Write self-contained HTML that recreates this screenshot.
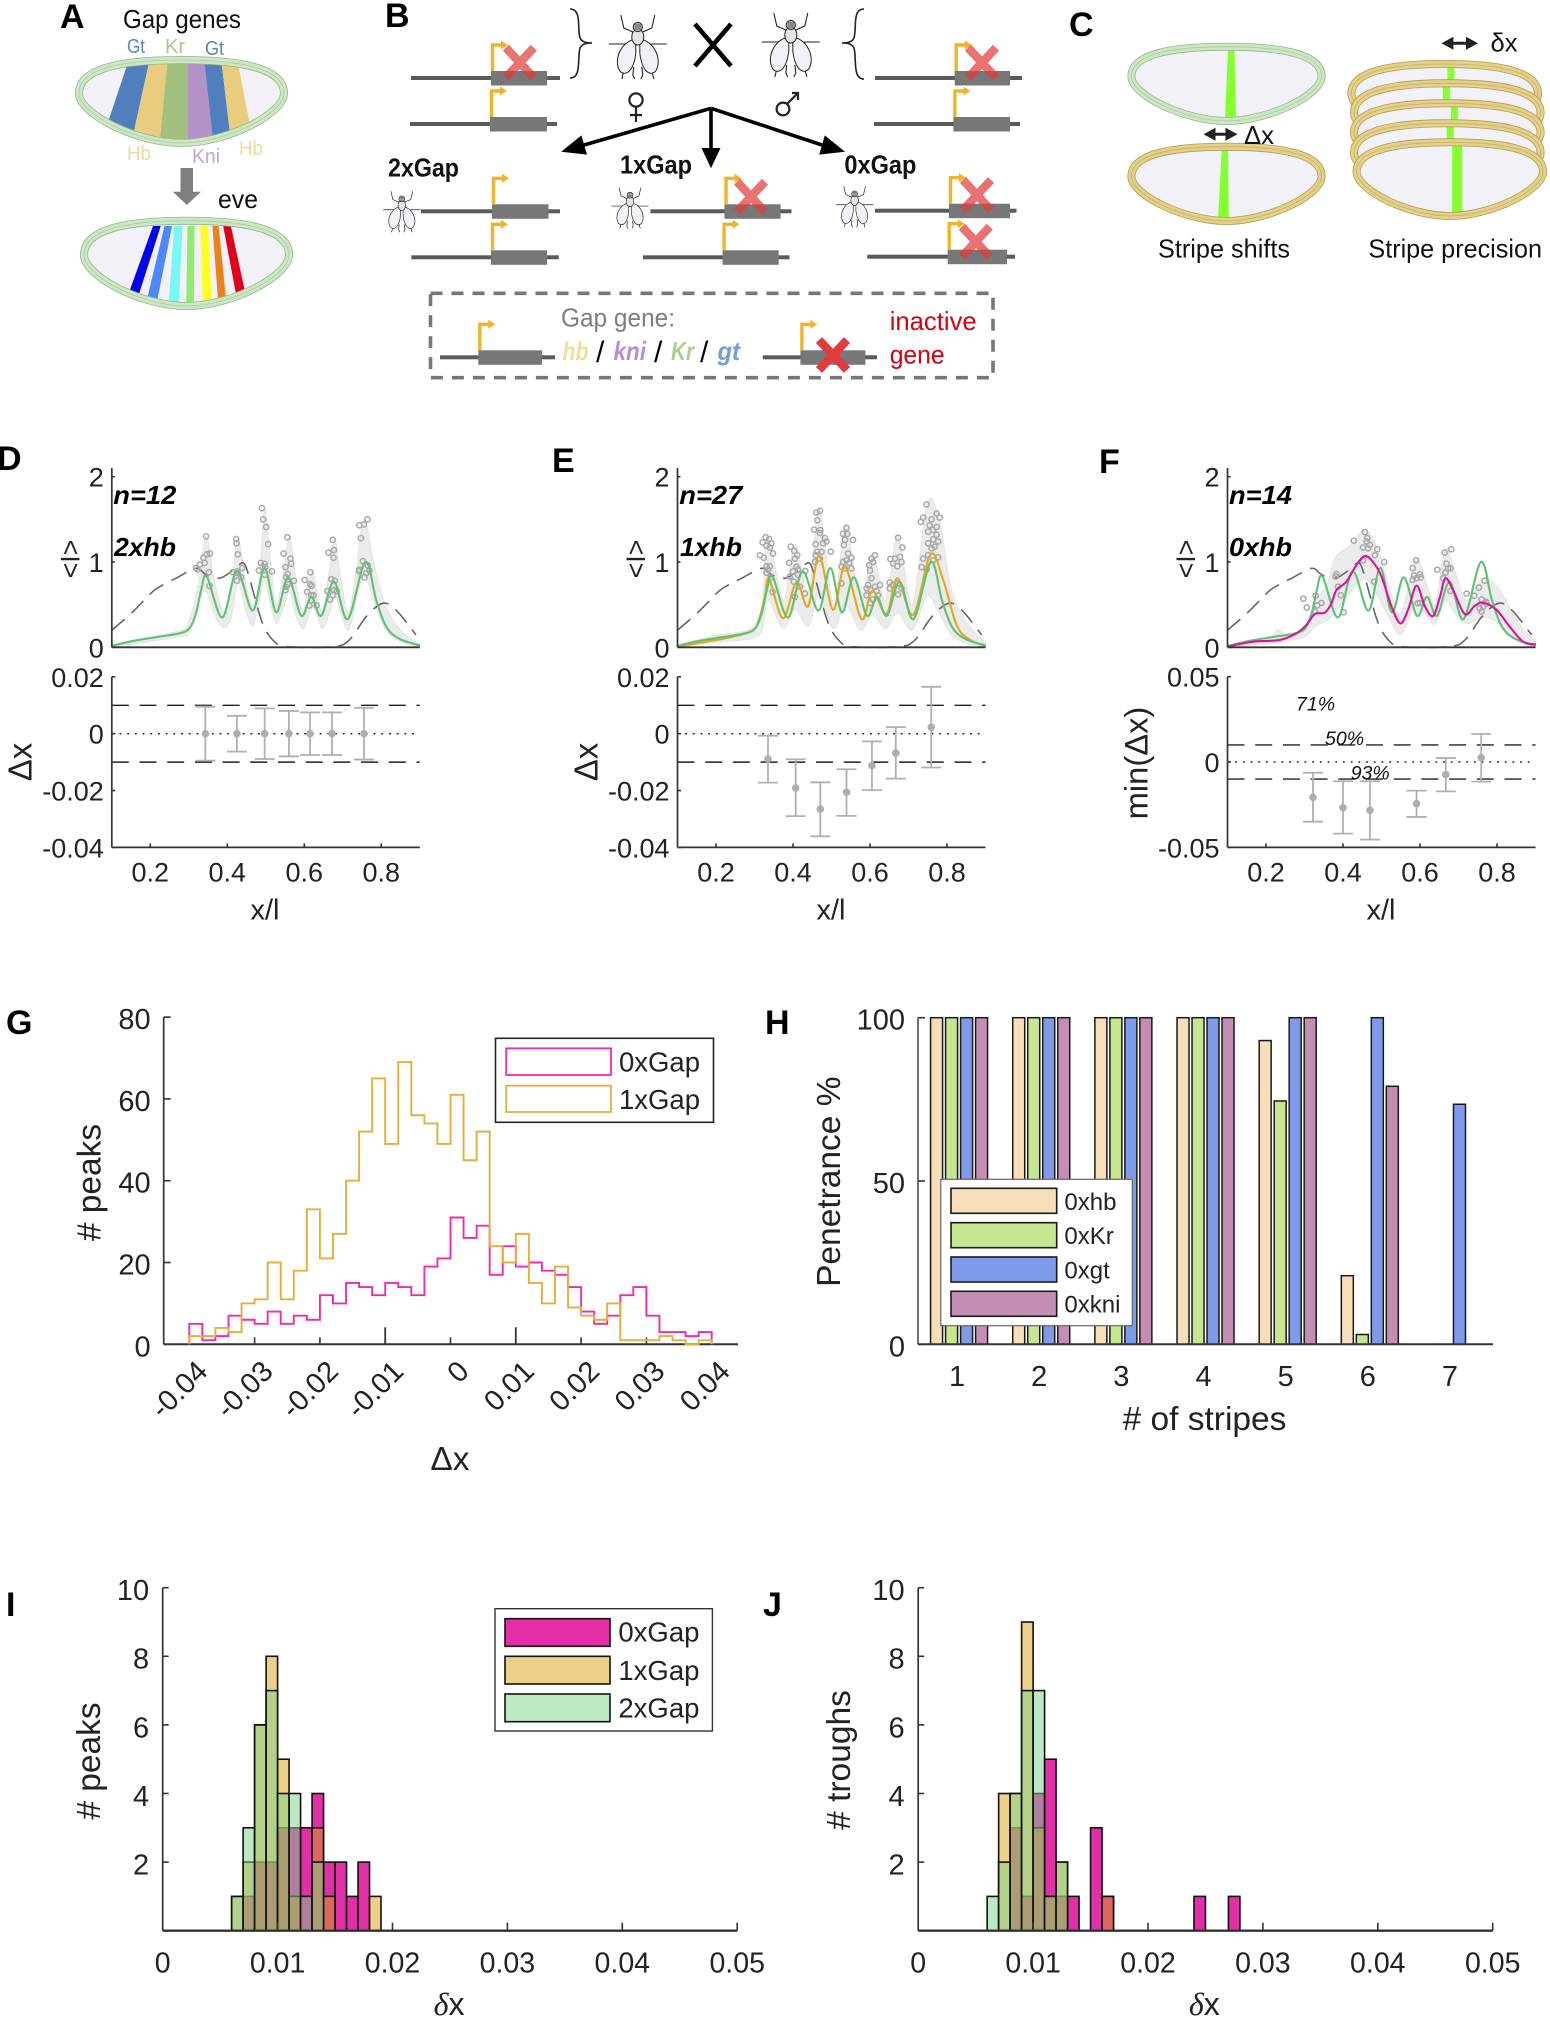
<!DOCTYPE html>
<html lang="en">
<head>
<meta charset="utf-8">
<title>Gap gene dosage and eve stripe positioning</title>
<style>
html,body{margin:0;padding:0;background:#fff;}
svg{display:block;}
text{font-family:"Liberation Sans",sans-serif;fill:#222;}
.letter{font-weight:bold;font-size:34px;fill:#000;}
.lab{font-size:33.5px;}
.schem{font-size:26px;fill:#111;}
.tag{font-weight:bold;font-style:italic;font-size:26px;fill:#000;}
.pct{font-style:italic;font-size:19.5px;fill:#111;}
.leg{font-size:27.5px;}
.leg2{font-size:24px;}
</style>
</head>
<body>
<svg id="figure" xmlns="http://www.w3.org/2000/svg" width="1550" height="2019" viewBox="0 0 1550 2019">
<defs>
  <clipPath id="embryo-a-clip"><path d="M79.5 93.3C79.5 70.3 116.2 60.5 181.5 60.5C246.8 60.5 283.5 70.3 283.5 93.3C283.5 113.8 226.4 142.5 181.5 142.5C136.6 142.5 79.5 113.8 79.5 93.3Z"/></clipPath>
  <g id="fly">
    <g fill="none" stroke="#222" stroke-width="1.1">
      <path d="M-29-3H29M-5-15L-14-19L-17-32M5-15L14-19L17-32M-8 16L-14 24L-16 32M8 16L14 24L16 32M-4 20L-5 28L-3 32M4 20L5 28L3 32"/>
    </g>
    <path d="M-2-8C-16-6-25 12-18 24C-12 30-4 24-2 6Z" fill="#f1f1f7" stroke="#222" stroke-width="1"/>
    <path d="M2-8C16-6 25 12 18 24C12 30 4 24 2 6Z" fill="#f1f1f7" stroke="#222" stroke-width="1"/>
    <ellipse cx="0" cy="-10" rx="6" ry="8" fill="#e4e4e4" stroke="#222" stroke-width="1"/>
    <circle cx="0" cy="-20" r="4.6" fill="#bbb" stroke="#222" stroke-width="1"/>
    <path d="M-3-22H3M-3-20H3M-3-18H3" stroke="#333" stroke-width=".7"/>
  </g>
</defs>

<g id="layer-embryo-fill"></g>

<g>
  <g clip-path="url(#embryo-a-clip)">
    <polygon points="129.5,58 150,58 130.7,146 100,146" fill="#4f7fbf"/>
    <polygon points="150,58 167.7,58 159.4,146 130.7,146" fill="#e9cc7e"/>
    <polygon points="167.7,58 188,58 188,146 159.4,146" fill="#a2c17e"/>
    <polygon points="188,58 204,58 213.6,146 188,146" fill="#b491c8"/>
    <polygon points="204,58 221,58 231.5,146 213.6,146" fill="#4f7fbf"/>
    <polygon points="221,58 237,58 254,146 231.5,146" fill="#e9cc7e"/>
  </g>
  <polygon points="153,226 160.7,226 139,294 128.8,293" fill="#0000f0"/>
  <polygon points="164.5,226 172,226 157.5,299 147.3,298" fill="#4d88ff"/>
  <polygon points="174,226 182.4,226 179,302 169,301" fill="#77f7f7"/>
  <polygon points="187.5,226 194.5,226 193.9,302 186.2,302" fill="#8fec6f"/>
  <polygon points="200.3,226 208,226 211.7,301 202.8,302" fill="#ffff22"/>
  <polygon points="212.4,226 218.7,226 225.8,297 218,299" fill="#e8821e"/>
  <polygon points="223.2,226 230.9,226 245,292 236,294" fill="#e0001b"/>
  <polygon points="1228,49 1234.4,49 1236,120 1225,120" fill="#85ff2e"/>
  <polygon points="1221.8,148 1228,148 1228.8,219 1218,219" fill="#85ff2e"/>
</g>

<g id="layer-embryo-ring"></g>
<g id="layer-genes"></g>
<g id="layer-charts"></g>

<g>
  <text class="letter" x="60" y="28">A</text>
  <text class="letter" x="385" y="27">B</text>
  <text class="letter" x="1069" y="36">C</text>
  <text class="schem" x="123" y="28" textLength="118" lengthAdjust="spacingAndGlyphs">Gap genes</text>
  <text x="127" y="53" font-size="20" textLength="18" lengthAdjust="spacingAndGlyphs" style="fill:#5b84b8">Gt</text>
  <text x="165" y="53" font-size="20" textLength="20" lengthAdjust="spacingAndGlyphs" style="fill:#a9c58a">Kr</text>
  <text x="205" y="55" font-size="20" textLength="19" lengthAdjust="spacingAndGlyphs" style="fill:#5b84b8">Gt</text>
  <text x="127" y="160" font-size="20" textLength="24" lengthAdjust="spacingAndGlyphs" style="fill:#ecd9a0">Hb</text>
  <text x="192" y="163" font-size="20" textLength="28" lengthAdjust="spacingAndGlyphs" style="fill:#c0a6d0">Kni</text>
  <text x="239" y="155" font-size="20" textLength="24" lengthAdjust="spacingAndGlyphs" style="fill:#ecd9a0">Hb</text>
  <polygon points="180.5,168 193,168 193,191.7 200.9,191.7 186.9,205 172.8,191.7 180.5,191.7" fill="#7f7f7f"/>
  <text class="schem" x="218" y="208" textLength="40" lengthAdjust="spacingAndGlyphs">eve</text>

  <use href="#fly" transform="translate(637.8 47)"/>
  <use href="#fly" transform="translate(790.8 45)"/>
  <use href="#fly" transform="translate(401.8 211.7) scale(.64)"/>
  <use href="#fly" transform="translate(630 208) scale(.64)"/>
  <use href="#fly" transform="translate(854.6 206.7) scale(.64)"/>
  <path d="M570 9C582 9 577 28 580 38C582 42 586 43 592 43C586 43 582 44 580 48C577 58 582 78 570 78" fill="none" stroke="#222" stroke-width="1.6"/>
  <path d="M864 9C852 9 857 28 854 38C852 42 848 43 842 43C848 43 852 44 854 48C857 58 852 79 864 79" fill="none" stroke="#222" stroke-width="1.6"/>
  <path d="M695 24L731 66M731 24L695 66" stroke="#000" stroke-width="4.6" fill="none"/>
  <g fill="none" stroke="#222" stroke-width="2.2">
    <circle cx="636" cy="100" r="6.6"/><path d="M636 107V122M630 115H642"/>
  </g>
  <g fill="none" stroke="#222" stroke-width="2.2">
    <circle cx="783" cy="109" r="6.4"/><path d="M787 104L798 93M792 93H798V100"/>
  </g>
  <g>
    <path d="M711 108.3L584 145M711 108.3V150M711 108.3L822 145" stroke="#000" stroke-width="3.6" fill="none"/>
    <polygon points="561.2,151.7 587,154.6 581.4,135.4"/>
    <polygon points="711,168.3 701.5,148 720.5,148"/>
    <polygon points="845,151.7 819.2,154.6 824.8,135.4"/>
  </g>
  <text class="schem" font-weight="bold" x="388" y="176.7" textLength="71" lengthAdjust="spacingAndGlyphs">2xGap</text>
  <text class="schem" font-weight="bold" x="620" y="173.3" textLength="72" lengthAdjust="spacingAndGlyphs">1xGap</text>
  <text class="schem" font-weight="bold" x="844.4" y="173.3" textLength="72" lengthAdjust="spacingAndGlyphs">0xGap</text>

  <rect x="430.5" y="293.3" width="562.5" height="84.4" fill="none" stroke="#777" stroke-width="3.6" stroke-dasharray="12 9"/>
  <text class="schem" x="561" y="326.7" textLength="114" lengthAdjust="spacingAndGlyphs" style="fill:#7f7f7f">Gap gene:</text>
  <text class="schem" font-weight="bold" font-style="italic" x="562.5" y="360" textLength="26" lengthAdjust="spacingAndGlyphs" style="fill:#f3dc9c">hb</text>
  <text x="596" y="362" font-size="30" style="fill:#000">/</text>
  <text class="schem" font-weight="bold" font-style="italic" x="613.5" y="360" textLength="32.5" lengthAdjust="spacingAndGlyphs" style="fill:#b58ce0">kni</text>
  <text x="654" y="362" font-size="30" style="fill:#000">/</text>
  <text class="schem" font-weight="bold" font-style="italic" x="671" y="360" textLength="23" lengthAdjust="spacingAndGlyphs" style="fill:#a9d18e">Kr</text>
  <text x="700" y="362" font-size="30" style="fill:#000">/</text>
  <text class="schem" font-weight="bold" font-style="italic" x="717.5" y="360" textLength="22.5" lengthAdjust="spacingAndGlyphs" style="fill:#6f9fd8">gt</text>
  <text class="schem" x="889.7" y="330" textLength="87" lengthAdjust="spacingAndGlyphs" style="fill:#d7000f">inactive</text>
  <text class="schem" x="889.7" y="363.3" textLength="55" lengthAdjust="spacingAndGlyphs" style="fill:#d7000f">gene</text>

  <g>
    <path d="M1203.5 134.3l12-6.5v13zM1237.5 134.3l-12-6.5v13z" fill="#222"/><path d="M1210 134.3H1231" stroke="#222" stroke-width="3"/>
  </g>
  <text class="schem" x="1244" y="144" textLength="30" lengthAdjust="spacingAndGlyphs">Δx</text>
  <g>
    <path d="M1441.4 43.3l12-6.5v13zM1478 43.3l-12-6.5v13z" fill="#222"/><path d="M1448 43.3H1472" stroke="#222" stroke-width="3"/>
  </g>
  <text class="schem" x="1490.5" y="51.7" textLength="27" lengthAdjust="spacingAndGlyphs">δx</text>
  <text class="schem" x="1158" y="257.3" textLength="132" lengthAdjust="spacingAndGlyphs">Stripe shifts</text>
  <text class="schem" x="1368.4" y="257.3" textLength="173.6" lengthAdjust="spacingAndGlyphs">Stripe precision</text>
</g>

<g>
  <text class="letter" x="-3" y="470">D</text>
  <text class="letter" x="552" y="472">E</text>
  <text class="letter" x="1099" y="473">F</text>
  <text class="letter" x="6" y="1034">G</text>
  <text class="letter" x="765" y="1034">H</text>
  <text class="letter" x="6" y="1616">I</text>
  <text class="letter" x="763" y="1616">J</text>
</g>

<g>
  <text class="tag" x="113.3" y="504" textLength="63" lengthAdjust="spacingAndGlyphs">n=12</text>
  <text class="tag" x="114" y="556" textLength="62" lengthAdjust="spacingAndGlyphs">2xhb</text>
  <text class="tag" x="679.3" y="504" textLength="63" lengthAdjust="spacingAndGlyphs">n=27</text>
  <text class="tag" x="680" y="556" textLength="62" lengthAdjust="spacingAndGlyphs">1xhb</text>
  <text class="tag" x="1229" y="504" textLength="63" lengthAdjust="spacingAndGlyphs">n=14</text>
  <text class="tag" x="1229" y="556" textLength="63" lengthAdjust="spacingAndGlyphs">0xhb</text>

  <text font-size="26.6" text-anchor="middle" transform="translate(79.5 559) rotate(-90)">&lt;I&gt;</text>
  <text font-size="26.6" text-anchor="middle" transform="translate(645 559) rotate(-90)">&lt;I&gt;</text>
  <text font-size="26.6" text-anchor="middle" transform="translate(1195 559) rotate(-90)">&lt;I&gt;</text>
  <text font-size="33" text-anchor="middle" transform="translate(31.7 762) rotate(-90)">Δx</text>
  <text font-size="33" text-anchor="middle" transform="translate(597.4 762) rotate(-90)">Δx</text>
  <text font-size="32.7" text-anchor="middle" transform="translate(1147.7 763) rotate(-90)">min(Δx)</text>
  <text font-size="29" text-anchor="middle" x="265" y="919.3">x/l</text>
  <text font-size="29" text-anchor="middle" x="831" y="919.3">x/l</text>
  <text font-size="29" text-anchor="middle" x="1381" y="919.3">x/l</text>
  <text class="pct" x="1296" y="710.7">71%</text>
  <text class="pct" x="1325" y="745">50%</text>
  <text class="pct" x="1350.7" y="779.3">93%</text>
</g>

<g>
  <text class="lab" text-anchor="middle" transform="translate(100.6 1182.5) rotate(-90)"># peaks</text>
  <text class="lab" text-anchor="middle" x="450" y="1470">Δx</text>
  <text class="lab" text-anchor="middle" transform="translate(840 1181.7) rotate(-90)">Penetrance %</text>
  <text class="lab" text-anchor="middle" x="1204.5" y="1430"># of stripes</text>
  <text class="lab" text-anchor="middle" transform="translate(100 1761) rotate(-90)"># peaks</text>
  <text class="lab" text-anchor="middle" transform="translate(850 1760) rotate(-90)"># troughs</text>
  <text text-anchor="middle" x="449" y="2015" font-size="32"><tspan font-family="Liberation Serif" font-style="italic">δ</tspan>x</text>
  <text text-anchor="middle" x="1204.3" y="2015" font-size="32"><tspan font-family="Liberation Serif" font-style="italic">δ</tspan>x</text>
</g>

<g>
  <rect x="495.5" y="1038.3" width="218" height="84" fill="#fff" stroke="#222" stroke-width="1.6"/>
  <rect x="506.2" y="1048.3" width="104.8" height="26.7" fill="#fff" stroke="#ee2bb0" stroke-width="1.8"/>
  <text class="leg" x="619" y="1071.7">0xGap</text>
  <rect x="506.2" y="1085.7" width="104.8" height="26.3" fill="#fff" stroke="#e6ad3a" stroke-width="1.8"/>
  <text class="leg" x="619" y="1109">1xGap</text>
</g>

<g id="layer-overlay">
  <rect x="940.8" y="1179.3" width="191.5" height="146.4" fill="#fff" stroke="#666" stroke-width="1.2"/>
  <rect x="951" y="1188.3" width="105.7" height="25" fill="#f7ddb8" stroke="#1a1a1a" stroke-width="1.6"/>
  <text class="leg2" x="1064.4" y="1210">0xhb</text>
  <rect x="951" y="1222.7" width="105.7" height="25" fill="#c6e690" stroke="#1a1a1a" stroke-width="1.6"/>
  <text class="leg2" x="1064.4" y="1244">0xKr</text>
  <rect x="951" y="1257" width="105.7" height="25" fill="#7f9ae8" stroke="#1a1a1a" stroke-width="1.6"/>
  <text class="leg2" x="1064.4" y="1278.7">0xgt</text>
  <rect x="951" y="1291.3" width="105.7" height="25" fill="#c48db2" stroke="#1a1a1a" stroke-width="1.6"/>
  <text class="leg2" x="1064.4" y="1312.7">0xkni</text>
</g>

<g>
  <rect x="495" y="1608.7" width="217.4" height="122.3" fill="#fff" stroke="#333" stroke-width="1.4"/>
  <rect x="505" y="1618.7" width="105" height="27.6" fill="#e22fa8" stroke="#111" stroke-width="1.6"/>
  <text class="leg" x="618.4" y="1641.7">0xGap</text>
  <rect x="505" y="1656.3" width="105" height="27.7" fill="#ecd087" stroke="#111" stroke-width="1.6"/>
  <text class="leg" x="618.4" y="1680">1xGap</text>
  <rect x="505" y="1694" width="105" height="27.7" fill="#bde8c4" stroke="#111" stroke-width="1.6"/>
  <text class="leg" x="618.4" y="1717.7">2xGap</text>
</g>
</svg>

<script>
/* ---------- chart data ---------- */
const stripeTicks = [0.2, 0.4, 0.6, 0.8];
const stripeTickLabels = ['0.2', '0.4', '0.6', '0.8'];
const intensityTicks = [0, 1, 2];
const intensityTickLabels = ['0', '1', '2'];
const shiftTicksDE = [0.02, 0, -0.02, -0.04];
const shiftTickLabelsDE = ['0.02', '0', '-0.02', '-0.04'];
const shiftTicksF = [0.05, 0, -0.05];
const shiftTickLabelsF = ['0.05', '0', '-0.05'];
const thresholdValues = [0.01, -0.01];

const wildtypeX = [.100,.155,.224,.276,.302,.319,.332,.347,.387,.425,.466,.497,.527,.558,.592,.618,.644,.677,.713,.758,.787,.813,.847,.901];
const wildtypeY = [.016,.074,.125,.164,.223,.40,.67,.83,.35,.89,.43,.93,.41,.82,.37,.59,.37,.77,.33,1.0,.55,.24,.10,.02];

const oneCopyX = [.1,.175,.245,.297,.314,.327,.338,.374,.409,.439,.468,.504,.535,.578,.606,.643,.671,.712,.757,.790,.825,.859,.901];
const oneCopyY = [.01,.066,.125,.203,.36,.59,.80,.34,.76,.48,1.07,.44,.94,.33,.66,.39,.81,.38,1.09,.79,.26,.09,.015];

const zeroCopyX = [.1,.167,.236,.279,.305,.327,.353,.370,.383,.409,.435,.457,.478,.5,.526,.549,.569,.591,.613,.634,.652,.666,.686,.716,.742,.764,.799,.833,.868,.901];
const zeroCopyY = [.008,.066,.086,.164,.262,.391,.406,.516,.672,.77,.965,1.07,1.0,.83,.477,.28,.44,.723,.477,.367,.594,.809,.672,.39,.484,.523,.438,.242,.066,.035];

const gapProfileX = [.1,.155,.206,.232,.267,.319,.345,.38,.414,.44,.453,.471,.492,.518,.553,.674,.717,.761,.804,.839,.89];
const gapProfileY = [.2,.418,.652,.73,.81,.926,.85,.81,.90,.99,.883,.59,.277,.086,.008,.008,.086,.36,.516,.434,.145];

const bandDX = [.1,.2,.28,.3,.325,.345,.365,.39,.41,.428,.45,.468,.485,.497,.512,.527,.545,.562,.58,.597,.61,.622,.635,.648,.665,.68,.695,.715,.735,.755,.78,.81,.85,.9];
const bandDUpper = [.04,.12,.2,.3,.75,1.3,.8,.42,.7,1.27,.7,.5,.9,1.63,1.0,.5,.85,1.3,.7,.42,.7,.9,.6,.42,.9,1.27,.8,.4,.9,1.5,1.0,.5,.2,.03];
const bandDLower = [0,.07,.13,.17,.55,.65,.4,.23,.35,.75,.4,.26,.6,.78,.5,.28,.45,.65,.35,.22,.35,.47,.35,.22,.4,.6,.4,.2,.55,.85,.55,.22,.07,0];

const bandEX = [.1,.2,.29,.32,.335,.375,.405,.44,.468,.505,.537,.575,.606,.64,.672,.71,.748,.78,.81,.85,.9];
const bandEUpper = [.03,.14,.22,.5,1.3,.55,1.2,.62,1.62,.5,1.42,.5,1.1,.55,1.3,.5,1.68,1.5,.7,.3,.05];
const bandELower = [0,.06,.1,.2,.55,.22,.45,.25,.62,.22,.5,.2,.38,.22,.4,.2,.6,.4,.15,.05,0];

const bandFX = [.1,.2,.23,.26,.3,.33,.36,.38,.42,.457,.49,.52,.55,.59,.62,.64,.665,.69,.72,.76,.8,.84,.87,.9];
const bandFUpper = [.02,.08,.2,.12,.25,.55,.75,1.05,1.2,1.38,1.15,.7,.4,1.02,.7,.5,1.15,.9,.55,.8,.72,.4,.2,.07];
const bandFLower = [0,.04,.06,.08,.12,.25,.32,.42,.65,.8,.6,.35,.15,.5,.35,.28,.55,.4,.28,.35,.3,.12,.04,0];

const peaksDX = [.345,.323,.319,.329,.341,.338,.347,.355,.352,.354,.423,.424,.427,.439,.414,.425,.425,.436,.427,.490,.493,.501,.506,.487,.497,.498,.482,.497,.516,.556,.546,.564,.566,.551,.557,.553,.573,.557,.553,.551,.616,.601,.615,.619,.607,.618,.624,.618,.613,.632,.674,.663,.677,.676,.670,.679,.660,.677,.684,.674,.667,.764,.743,.755,.747,.752,.743,.742,.765,.769,.761,.756];
const peaksDY = [1.30,.91,.93,.97,.99,1.05,1.09,1.10,.88,.72,1.27,1.22,1.09,.93,.88,.89,.78,.82,.87,1.63,1.50,1.41,1.21,.99,.98,.94,.90,.85,.89,1.29,1.10,1.04,.98,.94,.86,.82,.78,.74,.71,.67,.88,.79,.74,.72,.65,.61,.61,.55,.49,.49,1.26,1.11,1.14,1.05,.80,.78,.66,.67,.66,.61,.56,1.50,1.43,1.44,1.28,1.01,.91,.89,.96,.90,.87,.82];

const peaksEX = [.329,.338,.321,.344,.331,.340,.348,.314,.324,.331,.340,.335,.331,.342,.347,.394,.403,.411,.390,.405,.409,.400,.392,.413,.432,.402,.413,.418,.431,.405,.470,.461,.463,.455,.471,.470,.483,.487,.478,.459,.463,.474,.498,.459,.470,.457,.539,.530,.541,.535,.556,.532,.543,.552,.539,.530,.546,.526,.535,.552,.526,.613,.604,.598,.608,.600,.604,.595,.613,.626,.591,.602,.617,.591,.621,.608,.600,.673,.684,.653,.665,.678,.682,.660,.671,.651,.660,.673,.651,.682,.673,.747,.773,.781,.738,.732,.760,.755,.773,.764,.751,.773,.764,.777,.751,.760,.768,.738,.751,.764,.777,.734,.747];
const peaksEY = [1.29,1.27,1.23,1.22,1.19,1.17,1.10,1.08,1.05,.95,.95,.91,.875,.82,.65,1.18,1.13,1.08,.99,1.04,.945,.89,.83,.91,.895,.77,.85,.71,.63,.59,1.60,1.58,1.49,1.38,1.375,1.34,1.28,1.24,1.22,1.21,1.12,1.12,1.12,1.08,1.04,1.0,1.40,1.33,1.33,1.26,1.26,1.2,1.10,1.05,1.02,1.0,.99,.945,.925,.925,.75,1.08,1.04,.965,1.0,.90,.81,.73,.71,.73,.69,.67,.66,.61,.61,.56,.52,1.285,1.17,1.035,1.04,1.06,1.0,.985,.95,.76,.73,.75,.69,.69,.62,1.675,1.57,1.52,1.52,1.47,1.5,1.43,1.41,1.375,1.355,1.32,1.265,1.24,1.22,1.16,1.18,1.04,1.08,1.02,1.055,.94,.91];

const peaksFX = [.457,.463,.428,.461,.470,.452,.465,.489,.483,.507,.452,.383,.381,.387,.394,.402,.481,.297,.306,.329,.333,.344,.327,.590,.581,.585,.600,.591,.581,.602,.594,.600,.664,.681,.669,.645,.673,.679,.666,.660,.679,.721,.741,.753,.768,.760,.771,.755,.764,.773,.760];
const peaksFY = [1.35,1.28,1.25,1.24,1.2,1.17,1.16,1.15,1.08,1.0,1.02,.86,.83,.71,.61,.41,.77,.57,.465,.605,.49,.52,.42,1.02,.93,.84,.855,.81,.79,.82,.515,.52,1.11,1.15,.98,.91,.925,.925,.875,.81,.66,.63,.605,.70,.78,.56,.535,.457,.477,.515,.42];

const shiftDX = [.343,.425,.497,.560,.615,.672,.755];
const shiftDMean = [0,0,0,0,0,0,0];
const shiftDUpper = [.0095,.0063,.0089,.008,.0075,.0075,.0091];
const shiftDLower = [-.0095,-.0063,-.0089,-.008,-.0075,-.0075,-.0091];

const shiftEX = [.335,.407,.471,.539,.605,.667,.759];
const shiftEMean = [-.0089,-.0191,-.0265,-.0206,-.0112,-.0068,.0023];
const shiftEUpper = [-.0007,-.009,-.0171,-.0125,-.0027,.0023,.0165];
const shiftELower = [-.0172,-.029,-.0361,-.0289,-.0198,-.0158,-.0119];

const shiftFX = [.322,.400,.470,.591,.667,.759];
const shiftFMean = [-.0207,-.0268,-.0283,-.0244,-.0074,.0025];
const shiftFUpper = [-.0063,-.0113,-.0113,-.0168,.0023,.0164];
const shiftFLower = [-.035,-.042,-.0455,-.0322,-.0172,-.0115];

const histGCounts0x = [5,1,2,7,6,5,8,5,7,6,12,10,15,14,12,15,14,12,19,21,31,26,29,17,24,19,20,18,17,14,8,5,7,12,14,7,3,3,2,3];
const histGCounts1x = [2,2,4,3,10,11,20,11,18,33,21,27,40,52,65,49,69,56,54,49,61,45,52,24,20,27,15,10,19,9,7,6,10,1,1,1,2,1,0,1];
const histGXTicks = [-.04,-.03,-.02,-.01,0,.01,.02,.03,.04];
const histGXLabels = ['-0.04','-0.03','-0.02','-0.01','0','0.01','0.02','0.03','0.04'];
const histGYTicks = [0,20,40,60,80];
const histGYLabels = ['0','20','40','60','80'];
const histGStart = -0.04;
const histGBinWidth = 0.002;

const stripeCounts = [1,2,3,4,5,6,7];
const penetrance0xhb = [100,100,100,100,93,21,0];
const penetrance0xKr = [100,100,100,100,74.5,3,0];
const penetrance0xgt = [100,100,100,100,100,100,73.5];
const penetrance0xkni = [100,100,100,100,100,79,0];
const penetranceYTicks = [0,50,100];
const penetranceYLabels = ['0','50','100'];

const precisionXTicks = [0,.01,.02,.03,.04,.05];
const precisionXLabels = ['0','0.01','0.02','0.03','0.04','0.05'];
const countYTicks = [2,4,6,8,10];
const countYLabels = ['2','4','6','8','10'];
const precisionStart = 0.006;
const precisionBinWidth = 0.001;
const peaksPrecision0x = [0,1,2,2,3,3,3,4,2,2,1,2,0];
const peaksPrecision1x = [1,2,6,8,5,1,0,3,1,0,0,0,1];
const peaksPrecision2x = [1,3,6,7,4,4,1,2,0,0,0,0,0];
const troughsPrecision0x = [0,0,3,1,4,5,1,1,0,3,1,0,0,0,0,0,0,0,1,0,0,1];
const troughsPrecision1x = [0,4,4,9,3,1,2,0,0,0,1,0,0,0,0,0,0,0,0,0,0,0];
const troughsPrecision2x = [1,2,4,7,7,1,2,0,0,0,0,0,0,0,0,0,0,0,0,0,0,0];

/* ---------- helpers ---------- */
const NS = 'http://www.w3.org/2000/svg';
const chartLayer = document.getElementById('layer-charts');
function make(parent, tag, attrs, txt) {
  const e = document.createElementNS(NS, tag);
  for (const k in attrs) e.setAttribute(k, attrs[k]);
  if (txt !== undefined) e.textContent = txt;
  parent.appendChild(e);
  return e;
}
function smooth(xs, ys, fx, fy, cont) {
  const p = xs.map((x, i) => [fx(x), fy(ys[i])]);
  let d = (cont ? 'L' : 'M') + p[0][0].toFixed(2) + ' ' + p[0][1].toFixed(2);
  for (let i = 0; i < p.length - 1; i++) {
    const a = p[i - 1] || p[i], b = p[i], c = p[i + 1], e = p[i + 2] || c;
    d += 'C' + (b[0] + (c[0] - a[0]) / 6).toFixed(2) + ' ' + (b[1] + (c[1] - a[1]) / 6).toFixed(2) + ' ' +
         (c[0] - (e[0] - b[0]) / 6).toFixed(2) + ' ' + (c[1] - (e[1] - b[1]) / 6).toFixed(2) + ' ' +
         c[0].toFixed(2) + ' ' + c[1].toFixed(2);
  }
  return d;
}
const AXIS = '#333';

function yTickMark(g, x, y, len) {
  const t = make(g, 'line', {x1: x, x2: x + len, y1: y, y2: y, stroke: AXIS, 'stroke-width': 1.6});
  
  
}
function xTickMark(g, x, y, len, w) {
  const t = make(g, 'line', {x1: x, x2: x, y1: y, y2: y - len, stroke: AXIS, 'stroke-width': w || 1.6});
  
  
}
function yTickText(g, x, y, label, size) {
  const t = make(g, 'text', {x: x, y: y, 'text-anchor': 'end', 'font-size': size}, label);
  
  
}
function xTickText(g, x, y, label, size) {
  const t = make(g, 'text', {x: x, y: y, 'text-anchor': 'middle', 'font-size': size}, label);
  
  
}
function axisLine(g, x1, y1, x2, y2, w) {
  const l = make(g, 'line', {x1: x1, y1: y1, x2: x2, y2: y2, stroke: AXIS, 'stroke-width': w || 1.7});
  
  
}

/* ---------- stripe panels D, E, F ---------- */
function drawStripePanel(cfg) {
  const g = make(chartLayer, 'g', {});
  
  
  const X = v => cfg.left + (v - 0.1) * 385;
  const YU = v => 647.3 - v * 85.3;
  const YL = v => cfg.zero - v * cfg.scale;
  const labelRight = cfg.left - 8;

  const band = make(g, 'path', {
    d: smooth(cfg.bandX, cfg.bandU, X, YU) + smooth(cfg.bandX.slice().reverse(), cfg.bandL.slice().reverse(), X, YU, true) + 'Z',
    fill: '#ebebeb', stroke: '#e3e3e3', 'stroke-width': 1
  });
  
  

  const gap = make(g, 'path', {d: smooth(gapProfileX, gapProfileY, X, YU), fill: 'none', stroke: '#666', 'stroke-width': 1.6, 'stroke-dasharray': '17 9'});
  
  

  cfg.peakX.forEach((px, i) => {
    const c = make(g, 'circle', {cx: X(px), cy: YU(cfg.peakY[i]), r: 2.6, fill: 'none', stroke: '#a8a8a8', 'stroke-width': 1.5});
    
    
  });

  cfg.curves.forEach(cv => {
    const p = make(g, 'path', {d: smooth(cv.x, cv.y, X, YU), fill: 'none', stroke: cv.color, 'stroke-width': 2.1});
    
    
  });

  axisLine(g, cfg.left, 468, cfg.left, 647.3);
  axisLine(g, cfg.left, 647.3, cfg.left + 308, 647.3, 1.9);
  intensityTicks.forEach((v, i) => {
    yTickMark(g, cfg.left, YU(v), 3);
    yTickText(g, labelRight, YU(v) + 10, intensityTickLabels[i], 27);
  });

  thresholdValues.forEach(v => {
    const d = make(g, 'line', {x1: cfg.left, x2: cfg.left + 308, y1: YL(v), y2: YL(v), stroke: '#222', 'stroke-width': 1.4, 'stroke-dasharray': '17 10.7'});
    
    
  });
  const dz = make(g, 'line', {x1: cfg.left, x2: cfg.left + 308, y1: YL(0), y2: YL(0), stroke: '#222', 'stroke-width': 1.5, 'stroke-dasharray': '1.8 5.9'});
  
  

  cfg.shiftX.forEach((sx, i) => {
    const px = X(sx);
    const e = make(g, 'path', {
      d: 'M' + px + ' ' + YL(cfg.shiftU[i]) + 'V' + YL(cfg.shiftL[i]) +
         'M' + (px - 10) + ' ' + YL(cfg.shiftU[i]) + 'h20M' + (px - 10) + ' ' + YL(cfg.shiftL[i]) + 'h20',
      fill: 'none', stroke: '#b0b0b0', 'stroke-width': 1.8
    });
    
    
    const c = make(g, 'circle', {cx: px, cy: YL(cfg.shiftM[i]), r: 3.8, fill: '#aeaeae'});
    
    
  });

  axisLine(g, cfg.left, 676.7, cfg.left, 847.4);
  axisLine(g, cfg.left, 847.4, cfg.left + 308, 847.4);
  cfg.yTicks.forEach((v, i) => {
    yTickMark(g, cfg.left, YL(v), 3.5);
    yTickText(g, labelRight, YL(v) + 10, cfg.yLabels[i], 27);
  });
  stripeTicks.forEach((v, i) => {
    xTickMark(g, X(v), 847.4, 4);
    xTickText(g, X(v), 881.7, stripeTickLabels[i], 27);
  });
}

const wildtypeCurve = {x: wildtypeX, y: wildtypeY, color: '#5cc36f'};
drawStripePanel({name: 'panel-d', left: 111.8, zero: 733.7, scale: 2843, yTicks: shiftTicksDE, yLabels: shiftTickLabelsDE,
  bandX: bandDX, bandU: bandDUpper, bandL: bandDLower, peakX: peaksDX, peakY: peaksDY, curves: [wildtypeCurve],
  shiftX: shiftDX, shiftM: shiftDMean, shiftU: shiftDUpper, shiftL: shiftDLower});
drawStripePanel({name: 'panel-e', left: 677.5, zero: 733.7, scale: 2843, yTicks: shiftTicksDE, yLabels: shiftTickLabelsDE,
  bandX: bandEX, bandU: bandEUpper, bandL: bandELower, peakX: peaksEX, peakY: peaksEY,
  curves: [{x: oneCopyX, y: oneCopyY, color: '#e5a625'}, wildtypeCurve],
  shiftX: shiftEX, shiftM: shiftEMean, shiftU: shiftEUpper, shiftL: shiftELower});
drawStripePanel({name: 'panel-f', left: 1227.5, zero: 762, scale: 1706, yTicks: shiftTicksF, yLabels: shiftTickLabelsF,
  bandX: bandFX, bandU: bandFUpper, bandL: bandFLower, peakX: peaksFX, peakY: peaksFY,
  curves: [{x: wildtypeX, y: wildtypeY, color: '#5cc36f'}, {x: zeroCopyX, y: zeroCopyY, color: '#e0109a'}],
  shiftX: shiftFX, shiftM: shiftFMean, shiftU: shiftFUpper, shiftL: shiftFLower});

/* ---------- panel G ---------- */
(function () {
  const g = make(chartLayer, 'g', {});
  
  
  const X = v => 450.5 + v * 6530;
  const Y = v => 1344.3 - v * 4.09;
  function stairs(counts, color, name) {
    let d = 'M' + X(histGStart) + ' ' + Y(0);
    counts.forEach((c, i) => {
      const x0 = X(histGStart + i * histGBinWidth), x1 = X(histGStart + (i + 1) * histGBinWidth);
      d += 'L' + x0.toFixed(2) + ' ' + Y(c).toFixed(2) + 'L' + x1.toFixed(2) + ' ' + Y(c).toFixed(2);
    });
    d += 'L' + X(histGStart + counts.length * histGBinWidth).toFixed(2) + ' ' + Y(0);
    const p = make(g, 'path', {d: d, fill: 'none', stroke: color, 'stroke-width': 1.9});
    
    
  }
  axisLine(g, 163.7, 1017, 163.7, 1344.3);
  histGYTicks.forEach((v, i) => {
    yTickMark(g, 163.7, Y(v), 7);
    yTickText(g, 150.7, Y(v) + 12, histGYLabels[i], 29);
  });
  histGXTicks.forEach((v, i) => {
    const tall = Math.abs(Math.abs(v) - 0.01) < 1e-9;
    xTickMark(g, X(v), 1344.3, tall ? 17 : 7, tall ? 1.8 : 1.6);
    const t = make(g, 'text', {
      'text-anchor': 'end', 'font-size': 29,
      transform: 'translate(' + (X(v) + 20) + ' 1373) rotate(-45)'
    }, histGXLabels[i]);
    
    
  });
  axisLine(g, 163.7, 1344.3, 738, 1344.3, 2);
  stairs(histGCounts0x, '#ee2bb0', 'histogram-0xgap');
  stairs(histGCounts1x, '#e6ad3a', 'histogram-1xgap');
})();

/* ---------- panel H ---------- */
(function () {
  const g = make(chartLayer, 'g', {});
  
  
  const X = n => 918 + (n - 0.5) * 82.15;
  const Y = v => 1344.3 - v * 3.266;
  const offsets = [-1.5, -0.5, 0.5, 1.5];
  const series = [
    {v: penetrance0xhb, c: '#f7ddb8'},
    {v: penetrance0xKr, c: '#c6e690'},
    {v: penetrance0xgt, c: '#7f9ae8'},
    {v: penetrance0xkni, c: '#c48db2'}
  ];
  series.forEach((s, si) => {
    s.v.forEach((val, i) => {
      if (val <= 0) return;
      const cx = X(stripeCounts[i]) + offsets[si] * 15;
      const r = make(g, 'rect', {x: cx - 6, y: Y(val), width: 12, height: Y(0) - Y(val), fill: s.c, stroke: '#1a1a1a', 'stroke-width': 1.5});
      
      
    });
  });
  axisLine(g, 918, 1017.7, 918, 1344.3, 1.4);
  axisLine(g, 918, 1344.3, 1493, 1344.3, 2);
  penetranceYTicks.forEach((v, i) => {
    yTickMark(g, 918, Y(v), 7);
    yTickText(g, 905, Y(v) + 12, penetranceYLabels[i], 29);
  });
  stripeCounts.forEach(n => {
    xTickText(g, X(n) - 2, 1386, String(n), 29);
  });
})();

/* ---------- panels I and J ---------- */
function drawPrecision(name, left, counts0, counts1, counts2) {
  const g = make(chartLayer, 'g', {});
  
  
  const X = v => left + v * 11490;
  const Y = v => 1930.7 - v * 34.3;
  const series = [
    {v: counts0, c: '#de189e', o: 0.9},
    {v: counts1, c: '#d9a10f', o: 0.5},
    {v: counts2, c: '#7bd189', o: 0.5}
  ];
  series.forEach(s => {
    s.v.forEach((val, i) => {
      if (val <= 0) return;
      const x0 = X(precisionStart + i * precisionBinWidth);
      const r = make(g, 'rect', {
        x: x0, y: Y(val), width: X(precisionStart + (i + 1) * precisionBinWidth) - x0, height: Y(0) - Y(val),
        fill: s.c, 'fill-opacity': s.o, stroke: '#111', 'stroke-width': 1.6
      });
      
      
    });
  });
  axisLine(g, left, 1587.7, left, 1930.7);
  axisLine(g, left, 1930.7, left + 574.5, 1930.7, 2.4);
  countYTicks.forEach((v, i) => {
    yTickMark(g, left, Y(v), 6);
    yTickText(g, left - 13.5, Y(v) + 12.4, countYLabels[i], 29);
  });
  precisionXTicks.forEach((v, i) => {
    if (v > 0) xTickMark(g, X(v), 1930.7, 8);
    xTickText(g, X(v), 1972.7, precisionXLabels[i], 28.5);
  });
}
drawPrecision('panel-i', 162.7, peaksPrecision0x, peaksPrecision1x, peaksPrecision2x);
drawPrecision('panel-j', 918.2, troughsPrecision0x, troughsPrecision1x, troughsPrecision2x);

/* ---------- schematics ---------- */
const fillLayer = document.getElementById('layer-embryo-fill');
const ringLayer = document.getElementById('layer-embryo-ring');
const geneLayer = document.getElementById('layer-genes');

function embryoPath(x0, x1, y0, y1) {
  const a = x0 + 4, b = x1 - 4, t = y0 + 4, u = y1 - 4, w = b - a, h = u - t, yl = t + 0.4 * h;
  return 'M' + a + ' ' + yl + 'C' + a + ' ' + (t + 0.12 * h) + ' ' + (a + 0.18 * w) + ' ' + t + ' ' + (a + 0.5 * w) + ' ' + t +
    'C' + (a + 0.82 * w) + ' ' + t + ' ' + b + ' ' + (t + 0.12 * h) + ' ' + b + ' ' + yl +
    'C' + b + ' ' + (t + 0.65 * h) + ' ' + (a + 0.72 * w) + ' ' + u + ' ' + (a + 0.5 * w) + ' ' + u +
    'C' + (a + 0.28 * w) + ' ' + u + ' ' + a + ' ' + (t + 0.65 * h) + ' ' + a + ' ' + yl + 'Z';
}
function ring(parent, d, dark, light) {
  const o = make(parent, 'path', {d: d, fill: 'none', stroke: dark, 'stroke-width': 8});
  
  
  const m = make(parent, 'path', {d: d, fill: 'none', stroke: light, 'stroke-width': 6.4});
  
  
  const c = make(parent, 'path', {d: d, fill: 'none', stroke: dark, 'stroke-width': 0.8, 'stroke-opacity': 0.6});
  
  
}
function embryo(x0, x1, y0, y1, dark, light) {
  const d = embryoPath(x0, x1, y0, y1);
  const f = make(fillLayer, 'path', {d: d, fill: '#f3f1f8'});
  
  
  ring(ringLayer, d, dark, light);
}
const GREEN_DARK = '#8fb98a', GREEN_LIGHT = '#cfe6c4', GOLD_DARK = '#b39b4c', GOLD_LIGHT = '#e3d08a';
embryo(75, 288, 56, 147, GREEN_DARK, GREEN_LIGHT);
embryo(80, 293, 216.7, 310, GREEN_DARK, GREEN_LIGHT);
embryo(1127.4, 1325.6, 42.7, 125, GREEN_DARK, GREEN_LIGHT);
embryo(1127.4, 1325.6, 142.7, 225, GOLD_DARK, GOLD_LIGHT);

const stackEmbryos = [
  [1347.4, 1542, 60, 142, 1450.9, 3.5],
  [1350, 1544.6, 79.3, 161, 1446.3, 3.5],
  [1350, 1544.6, 99.3, 181, 1454.4, 3.5],
  [1350, 1544.6, 119.3, 201, 1450.2, 3.5],
  [1352.6, 1547, 138.3, 220, 1457.2, 5]
];
stackEmbryos.forEach(s => {
  const d = embryoPath(s[0], s[1], s[2], s[3]);
  const f = make(ringLayer, 'path', {d: d, fill: '#f3f1f8'});
  
  
  const st = make(ringLayer, 'rect', {x: s[4] - s[5], y: s[2] + 6, width: 2 * s[5], height: s[3] - s[2] - 12, fill: '#85ff2e'});
  
  
  ring(ringLayer, d, GOLD_DARK, GOLD_LIGHT);
});

function gene(start, boxL, boxR, end, y, mark) {
  const g = make(geneLayer, 'g', {});
  
  
  make(g, 'rect', {x: start, y: y - 2, width: end - start, height: 4, fill: '#5a5a5a'});
  make(g, 'rect', {x: boxL, y: y - 7, width: boxR - boxL, height: 14.5, fill: '#777'});
  const top = y - 33;
  make(g, 'path', {d: 'M' + (boxL + 1.5) + ' ' + (y - 7) + 'V' + top + 'H' + (boxL + 11), fill: 'none', stroke: '#f0b429', 'stroke-width': 3.4});
  make(g, 'polygon', {points: (boxL + 10) + ',' + (top - 4.5) + ' ' + (boxL + 17) + ',' + top + ' ' + (boxL + 10) + ',' + (top + 4.5), fill: '#f0b429'});
  if (mark) {
    const x = make(g, 'path', {
      d: 'M' + (mark[0] - 14) + ' ' + (mark[1] - 15) + 'L' + (mark[0] + 14) + ' ' + (mark[1] + 15) +
         'M' + (mark[0] + 14) + ' ' + (mark[1] - 15) + 'L' + (mark[0] - 14) + ' ' + (mark[1] + 15),
      stroke: '#e03c3c', 'stroke-width': 8.5, fill: 'none', 'stroke-opacity': mark[2] || 0.72
    });
    
    
  }
}
gene(411, 491, 547, 560, 78, [519.8, 62.7]);
gene(410, 490, 547, 557, 124);
gene(875, 954.7, 1010, 1022, 78, [982, 62.7]);
gene(874, 953.4, 1010, 1020, 124);
gene(421, 492, 548.5, 560, 211.3);
gene(411.4, 491, 547, 558.7, 257.3);
gene(650.5, 724.5, 780.6, 791.5, 211.3, [751, 196.7]);
gene(643, 722.6, 778.7, 789.5, 257.3);
gene(875, 949, 1010, 1016.5, 210.7, [977, 195]);
gene(867.3, 947.7, 1007, 1015, 256.7, [975.8, 241.7]);
gene(440, 478.3, 542, 555, 357.3);
gene(762.8, 800.4, 865.4, 877, 357.3, [833, 355, 1]);
</script>
</body>
</html>
